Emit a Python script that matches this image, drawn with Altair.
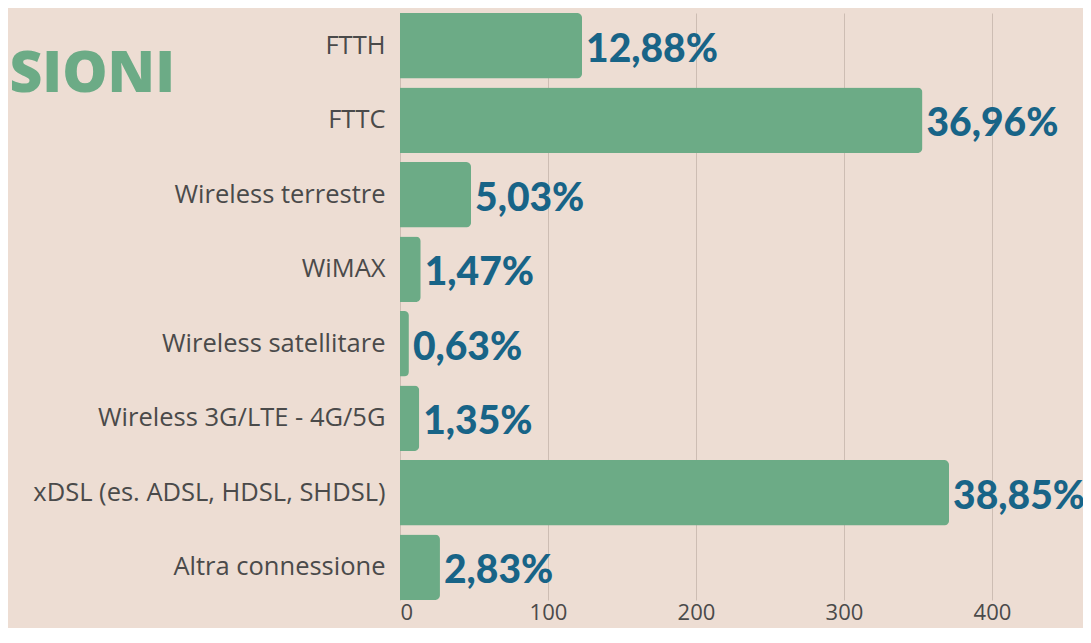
import altair as alt
import pandas as pd

categories = [
    "FTTH",
    "FTTC",
    "Wireless terrestre",
    "WiMAX",
    "Wireless satellitare",
    "Wireless 3G/LTE - 4G/5G",
    "xDSL (es. ADSL, HDSL, SHDSL)",
    "Altra connessione",
]
counts = [123, 353, 48, 14, 6, 13, 371, 27]
pct_labels = ["12,88%", "36,96%", "5,03%", "1,47%", "0,63%", "1,35%", "38,85%", "2,83%"]
x_ticks = [0, 100, 200, 300, 400]
title_line1 = "TIPOLOGIE DI CONNESSIONI"
title_line2 = "UTILIZZATE"

GREEN = "#6CAB86"
BLUE = "#186487"
BG = "#EDDDD3"

df = pd.DataFrame({"cat": categories, "n": counts, "lab": pct_labels})

y_enc = alt.Y(
    "cat:N",
    sort=categories,
    title=None,
    scale=alt.Scale(paddingInner=0.12, paddingOuter=0),
    axis=alt.Axis(
        domain=False,
        ticks=False,
        labelPadding=15,
        labelFont="Open Sans",
        labelFontSize=25.5,
        labelColor="#4A4A4A",
        labelLimit=500,
    ),
)
x_enc = alt.X(
    "n:Q",
    title=None,
    scale=alt.Scale(domain=[0, 461.5], nice=False),
    axis=alt.Axis(
        values=x_ticks,
        domain=False,
        ticks=False,
        grid=True,
        gridColor="#CDBDB3",
        gridWidth=1,
        labelPadding=2,
        labelFont="Open Sans",
        labelFontSize=22,
        labelColor="#4A4A4A",
    ),
)

bars = alt.Chart(df).mark_bar(
    color=GREEN, cornerRadiusTopRight=5, cornerRadiusBottomRight=5
).encode(x=x_enc, y=y_enc)

text = alt.Chart(df).mark_text(
    align="left", baseline="middle", dx=4, dy=4, font="Lato", fontWeight=900,
    fontSize=39, color=BLUE
).encode(x="n:Q", y=alt.Y("cat:N", sort=categories), text="lab:N")

t1 = alt.Chart(pd.DataFrame({"t": [title_line1]})).mark_text(
    align="right", baseline="alphabetic", font="Open Sans", fontWeight=800,
    fontSize=57, color=GREEN
).encode(x=alt.value(-225), y=alt.value(79), text="t:N")

t2 = alt.Chart(pd.DataFrame({"t": [title_line2]})).mark_text(
    align="right", baseline="alphabetic", font="Open Sans", fontWeight=800,
    fontSize=57, color=GREEN
).encode(x=alt.value(-394), y=alt.value(134), text="t:N")

chart = alt.layer(bars, text, t1, t2).properties(
    width=683,
    height=587,
    padding={"left": 392, "top": 5, "right": 0, "bottom": 28},
    autosize=alt.AutoSizeParams(type="none"),
    background=BG,
).configure_view(stroke=None)

chart.save("out.html", embed_options={"renderer": "svg", "actions": False})
